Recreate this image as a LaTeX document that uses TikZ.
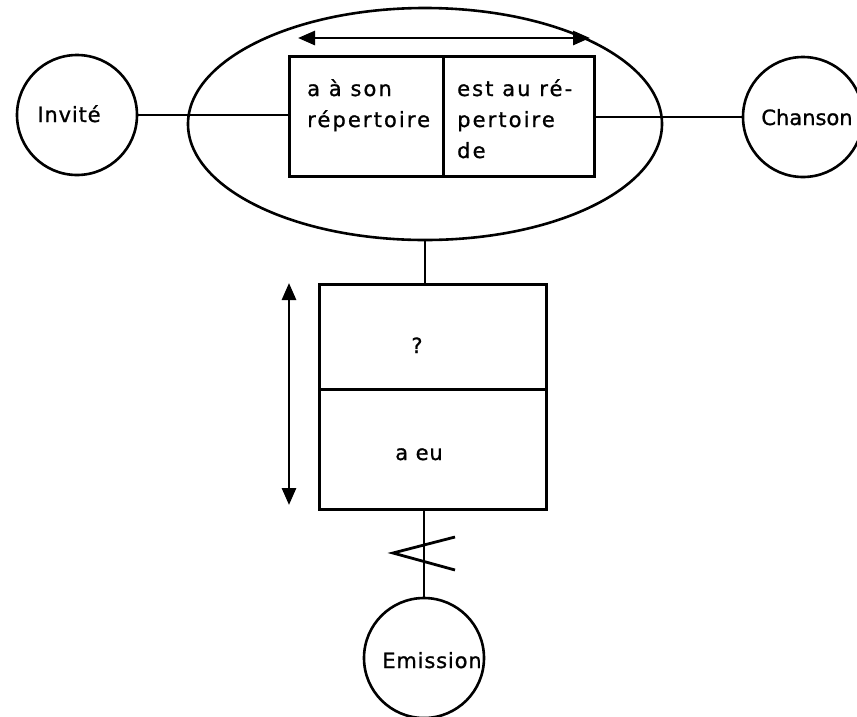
\documentclass[tikz,border=0pt]{standalone}
\usepackage{fontspec}
\newfontfamily\dv[FakeBold=1]{DejaVu Sans}
\newfontfamily\dvs[FakeBold=1,LetterSpace=10]{DejaVu Sans}
\newfontfamily\dvc[FakeBold=1,LetterSpace=4]{DejaVu Sans}
\usetikzlibrary{shapes.geometric,arrows.meta}
\begin{document}
\begin{tikzpicture}[x=1pt,y=-1pt,
  ent/.style={circle,draw,line width=2.6pt,minimum size=120pt,inner sep=0pt},
  cell/.style={rectangle,draw,line width=3pt,inner sep=0pt,anchor=north west},
  lab/.style={font=\dv\fontsize{21}{31}\selectfont,inner sep=0pt},
  clab/.style={font=\dvc\fontsize{21}{31}\selectfont,inner sep=0pt},
  slab/.style={font=\dvs\fontsize{21}{31}\selectfont,inner sep=0pt},
  link/.style={line width=2.8pt},
  dbl/.style={line width=2.8pt,{Triangle[length=17pt,width=14pt]}-{Triangle[length=17pt,width=14pt]}}]
\useasboundingbox[fill=white] (0,0) rectangle (857,716);
% relationship ellipse
\node[ellipse,draw,line width=2.6pt,minimum width=474pt,minimum height=232pt,inner sep=0pt] (rel) at (425,124) {};
% entities
\node[ent] (inv) at (77,115) {};
\node[ent] (chan) at (803,117) {};
\node[ent] (em) at (424,658) {};
\node[clab,anchor=base] (tinv) at (69,122) {Invité};
\node[lab,anchor=base] (tchan) at (807,125) {Chanson};
\node[clab,anchor=base] (tem) at (432,668) {Emission};
% upper role box
\node[cell,minimum width=154pt,minimum height=120pt] (c1) at (288,55) {};
\node[cell,minimum width=151pt,minimum height=120pt] (c2) at (442,55) {};
\node[slab,anchor=north west,align=left] (t1) at (307,79) {a à son\\répertoire};
\node[slab,anchor=north west,align=left] (t2) at (457,79) {est au ré-\\pertoire\\de};
% lower role box
\node[cell,minimum width=227pt,minimum height=105pt] (b1) at (318,283) {};
\node[cell,minimum width=227pt,minimum height=120pt] (b2) at (318,388) {};
\node[lab,anchor=base] (tq) at (417,353) {?};
\node[clab,anchor=base] (tae) at (419,460) {a eu};
% arrows
\coordinate (al) at (298,38);
\coordinate (ar) at (590,38);
\draw[dbl] (al) -- (ar);
\coordinate (vt) at (289,283);
\coordinate (vb) at (289,505);
\draw[dbl] (vt) -- (vb);
% connectors
\draw[link] (inv.east) -- (inv.east -| c1.west);
\draw[link] (chan.west -| c2.east) -- (chan.west);
\draw[link] (rel.south) -- (rel.south |- b1.north);
\draw[link] (em.north |- b2.south) -- (em.north);
\coordinate (ku) at (455,537);
\coordinate (kv) at (393,553);
\coordinate (kd) at (455,570);
\draw[link] (ku) -- (kv) -- (kd);
\end{tikzpicture}
\end{document}
